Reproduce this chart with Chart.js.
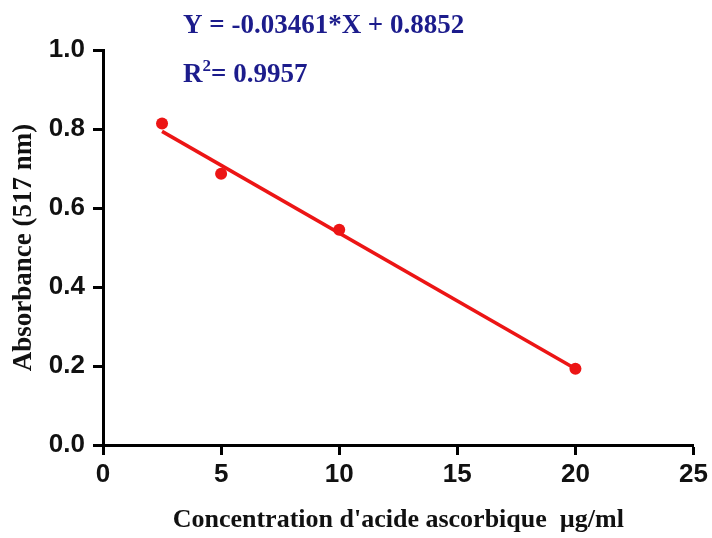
<!DOCTYPE html>
<html>
<head>
<meta charset="utf-8">
<script src="https://cdn.jsdelivr.net/npm/chart.js@4.4.1/dist/chart.umd.min.js"></script>
<style>
  html, body { margin: 0; padding: 0; background: #fff; }
  #wrap { width: 712px; height: 538px; }
</style>
</head>
<body>
<div id="wrap"><canvas id="calib" width="712" height="538"></canvas></div>
<script>
// Ascorbic acid calibration (DPPH, 517 nm)
const concentrations = [2.5, 5, 10, 20];
const absorbances = [0.814, 0.687, 0.545, 0.193];
const fitX = [2.5, 20];
const fitY = [0.794, 0.193];
const xTicks = [0, 5, 10, 15, 20, 25];
const yTicks = [0, 0.2, 0.4, 0.6, 0.8, 1.0];
const equationText = 'Y = -0.03461*X + 0.8852';
const r2Text = '= 0.9957';

const RED = '#ec1515';
const NAVY = '#1c1c8c';
const SERIF = '"Liberation Serif", "Times New Roman", serif';
const SANS = '"Liberation Sans", Arial, sans-serif';

const ctx = document.getElementById('calib').getContext('2d');

new Chart(ctx, {
    type: 'scatter',
    data: {
        datasets: [
            {
                type: 'line',
                data: fitX.map((x, i) => ({ x: x, y: fitY[i] })),
                borderColor: RED,
                borderWidth: 3.5,
                pointRadius: 0,
                fill: false,
            },
            {
                data: concentrations.map((x, i) => ({ x: x, y: absorbances[i] })),
                backgroundColor: RED,
                borderColor: RED,
                pointRadius: 6,
                pointBorderWidth: 0,
            },
        ],
    },
    options: {
        animation: false,
        responsive: false,
        layout: { padding: { left: 0, right: 17, top: 50, bottom: 0 } },
        plugins: { legend: { display: false }, tooltip: { enabled: false } },
        scales: {
            x: {
                type: 'linear',
                min: 0,
                max: 25,
                afterBuildTicks: (axis) => { axis.ticks = xTicks.map((v) => ({ value: v })); },
                afterFit: (axis) => { axis.height = 93; },
                border: { display: true, color: '#000', width: 3 },
                grid: { drawOnChartArea: false, drawTicks: true, tickLength: 10, tickWidth: 3, tickColor: '#000' },
                ticks: {
                    color: '#111',
                    padding: 4,
                    font: { family: SANS, size: 26, weight: 'bold' },
                    maxRotation: 0,
                },
                title: {
                    display: true,
                    text: "Concentration d'acide ascorbique  µg/ml",
                    color: '#111',
                    font: { family: SERIF, size: 26, weight: 'bold' },
                    padding: { top: 0, bottom: 2 },
                },
            },
            y: {
                type: 'linear',
                min: 0,
                max: 1.0,
                afterBuildTicks: (axis) => { axis.ticks = yTicks.map((v) => ({ value: v })); },
                afterFit: (axis) => { axis.width = 103; },
                border: { display: true, color: '#000', width: 3 },
                grid: { drawOnChartArea: false, drawTicks: true, tickLength: 10, tickWidth: 3, tickColor: '#000' },
                ticks: {
                    color: '#111',
                    padding: 8,
                    font: { family: SANS, size: 26, weight: 'bold' },
                    callback: (v) => v.toFixed(1),
                },
                title: {
                    display: true,
                    text: 'Absorbance (517 nm)',
                    color: '#111',
                    font: { family: SERIF, size: 27, weight: 'bold' },
                    padding: { top: 8, bottom: 0 },
                },
            },
        },
    },
    plugins: [{
        id: 'equation',
        afterDraw(chart) {
            const c = chart.ctx;
            const big = 'bold 27px ' + SERIF;
            c.save();
            c.fillStyle = NAVY;
            c.textBaseline = 'alphabetic';
            c.textAlign = 'left';
            c.font = big;
            c.fillText(equationText, 183, 33);
            c.fillText('R', 183, 82);
            const rw = c.measureText('R').width;
            c.font = 'bold 17px ' + SERIF;
            c.fillText('2', 183 + rw, 71);
            const sw = c.measureText('2').width;
            c.font = big;
            c.fillText(r2Text, 183 + rw + sw, 82);
            c.restore();
        }
    }]
});
</script>
</body>
</html>
